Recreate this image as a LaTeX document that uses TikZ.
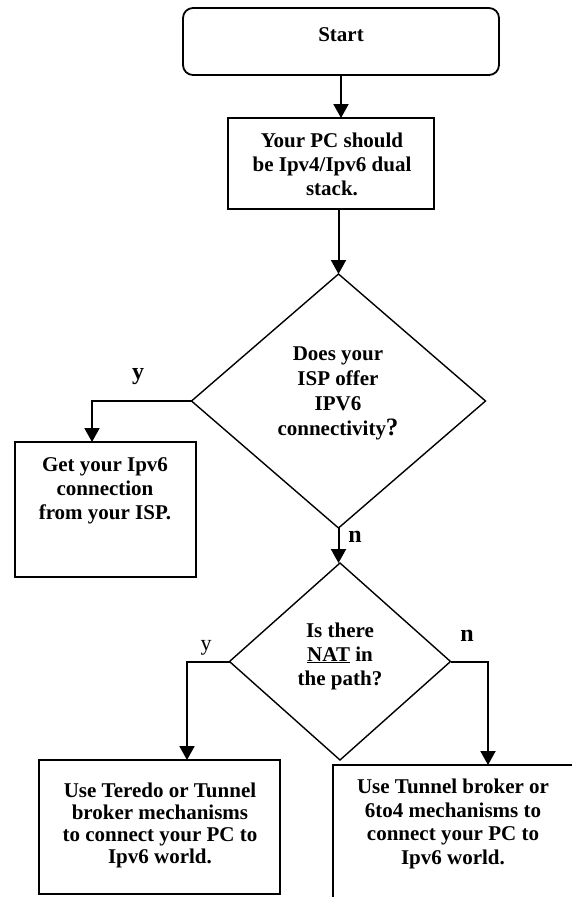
\documentclass[tikz,border=0pt]{standalone}
\usepackage{fontspec}
\setmainfont{Liberation Serif}
\usetikzlibrary{shapes.geometric,arrows.meta}
\begin{document}
\begin{tikzpicture}[x=1pt,y=-1pt,
  box/.style={draw,line width=1.8pt,inner sep=0pt,outer sep=0pt},
  decision/.style={draw,diamond,line width=1.4pt,inner sep=0pt,outer sep=0pt},
  txt/.style={align=center,font=\bfseries\fontsize{21}{24}\selectfont,inner sep=0pt},
  lbl/.style={font=\bfseries\fontsize{24}{24}\selectfont,inner sep=0pt},
  flow/.style={line width=2pt,-{Triangle[width=15pt,length=14pt]}}]
\clip (0,0) rectangle (572,897);

% shapes of the flowchart
\node[box,rounded corners=10pt,minimum width=316pt,minimum height=67pt] (start) at (341,41.5) {};
\node[box,minimum width=206pt,minimum height=91pt] (pc) at (331,163.5) {};
\node[decision,minimum width=294pt,minimum height=254pt] (d1) at (338.5,401) {};
\node[box,minimum width=181pt,minimum height=135pt] (isp) at (105.5,509.5) {};
\node[decision,minimum width=221pt,minimum height=197pt] (d2) at (340,661.5) {};
\node[box,minimum width=241pt,minimum height=134pt] (teredo) at (159.5,827) {};
\node[box,minimum width=242pt,minimum height=140pt] (sixtofour) at (454,835) {};

% texts
\node[txt] (starttxt) at (341,35) {Start};
\node[txt] (pctxt) at (332,164) {Your PC should\\be Ipv4/Ipv6 dual\\stack.};
\node[txt,font=\bfseries\fontsize{21}{25}\selectfont] (d1txt) at (338,393)
  {Does your\\ISP offer\\IPV6\\connectivity{\fontsize{25}{25}\selectfont ?}};
\node[txt] (isptxt) at (105,491) {Get your Ipv6\\connection\\from your ISP.};
\node[txt] (d2txt) at (340,656) {Is there\\\underline{NAT} in\\the path?};
\node[txt,font=\bfseries\fontsize{21}{22}\selectfont] (teredotxt) at (160,825)
  {Use Teredo or Tunnel\\broker mechanisms\\to connect your PC to\\Ipv6 world.};
\node[txt,font=\bfseries\fontsize{21}{23.5}\selectfont] (sixtofourtxt) at (453,824)
  {Use Tunnel broker or\\6to4 mechanisms to\\connect your PC to\\Ipv6 world.};

% branch labels
\node[lbl] (y1) at (138,377) {y};
\node[lbl] (n1) at (355,537) {n};
\node[lbl] (n2) at (467,636) {n};
\node[inner sep=0pt,font=\fontsize{22}{22}\selectfont] (y2) at (206,648) {y};

% connector ends
\path (isp.north) ++(-13.5,0) coordinate (yend1);
\path (teredo.north) ++(27.5,0) coordinate (yend2);
\path (sixtofour.north) ++(34,0) coordinate (nend2);

% connectors
\draw[flow] (start.south) -- (start.south |- pc.north);
\draw[flow] (d1.north |- pc.south) -- (d1.north);
\draw[flow] (d1.west) -| (yend1);
\draw[flow] (d1.south) -- (d1.south |- d2.north);
\draw[flow] (d2.west) -| (yend2);
\draw[flow] (d2.east) -| (nend2);
\end{tikzpicture}
\end{document}
